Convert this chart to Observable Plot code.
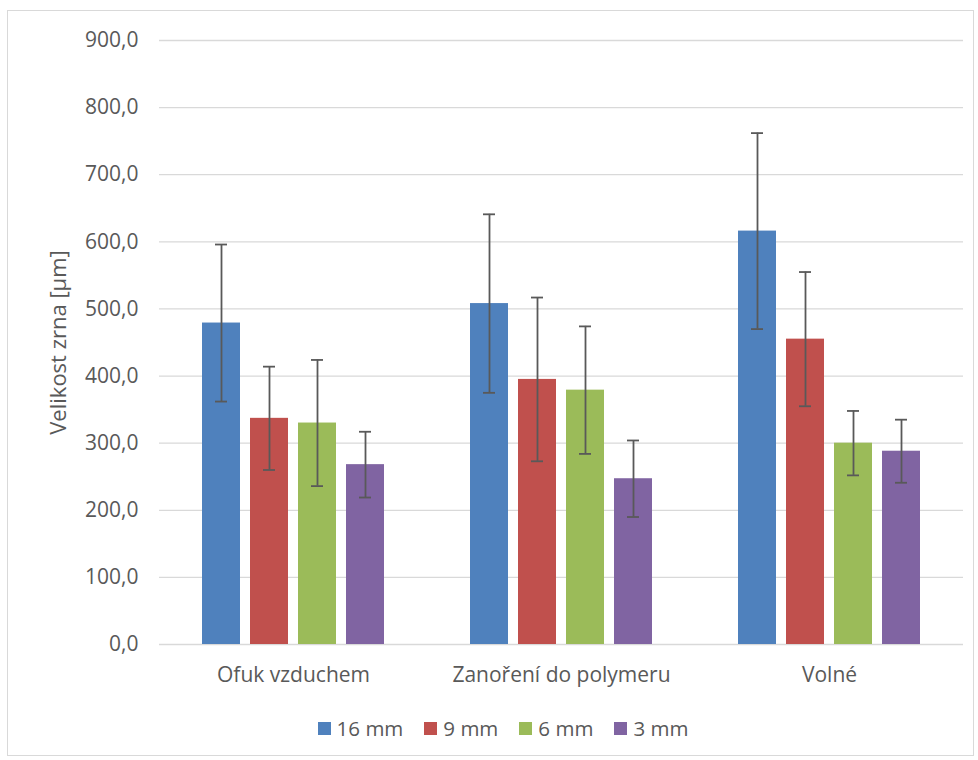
<!DOCTYPE html>
<html>
<head>
<meta charset="utf-8">
<script src="https://cdn.jsdelivr.net/npm/d3@7"></script>
<script src="https://cdn.jsdelivr.net/npm/@observablehq/plot@0.6"></script>
<style>
  body { margin: 0; background: #fff; font-family: "Open Sans", sans-serif; }
  #wrap { position: relative; width: 978px; height: 760px; }
  #frame { position: absolute; left: 7px; top: 10px; width: 967px; height: 746px; border: 1px solid #d9d9d9; box-sizing: border-box; }
  #chart { position: absolute; left: 0; top: 0; }
  #legend { position: absolute; left: 14px; top: 714px; width: 978px; display: flex; justify-content: center; gap: 21px; font-size: 20.5px; line-height: 28px; color: #595959; }
  #legend span.item { display: flex; align-items: center; gap: 6px; }
  #legend span.sw { width: 13px; height: 13px; display: inline-block; }
</style>
</head>
<body>
<div id="wrap">
  <div id="frame"></div>
  <div id="chart"></div>
  <div id="legend"></div>
</div>
<script>
const categories = ["Ofuk vzduchem", "Zanoření do polymeru", "Volné"];
const series = ["16 mm", "9 mm", "6 mm", "3 mm"];
const colors = ["#4F81BD", "#C0504D", "#9BBB59", "#8064A2"];
const values16 = [479, 508, 616];
const values9 = [337, 395, 455];
const values6 = [330, 379, 300];
const values3 = [268, 247, 288];
const err16 = [117, 133, 146];
const err9 = [77, 122, 100];
const err6 = [94, 95, 48];
const err3 = [49, 57, 47];
const yTicks = [0, 100, 200, 300, 400, 500, 600, 700, 800, 900];
const yLabel = "Velikost zrna [µm]";

const seriesValues = [values16, values9, values6, values3];
const seriesErrors = [err16, err9, err6, err3];
const data = [];
categories.forEach((c, i) => {
  series.forEach((s, j) => {
    const v = seriesValues[j][i], e = seriesErrors[j][i];
    data.push({category: c, series: s, value: v, lo: v - e, hi: v + e});
  });
});

const fmt = d => d.toFixed(1).replace(".", ",");

const chart = Plot.plot({
  width: 978,
  height: 700,
  marginLeft: 158,
  marginRight: 15,
  marginTop: 40,
  marginBottom: 56,
  style: {fontFamily: "'Open Sans', sans-serif", fontSize: "21px", color: "#595959", background: "transparent"},
  fx: {domain: categories, padding: 0},
  x: {domain: series, paddingInner: 0.2, paddingOuter: 0.86, axis: null},
  y: {domain: [0, 900]},
  color: {domain: series, range: colors},
  marks: [
    Plot.ruleY(yTicks, {y: d => d, stroke: "#d9d9d9", strokeWidth: 1.3}),
    Plot.barY(data, {fx: "category", x: "series", y: "value", fill: "series"}),
    Plot.ruleX(data, {fx: "category", x: "series", y1: "lo", y2: "hi", stroke: "#595959", strokeWidth: 1.8}),
    Plot.tickY(data, {fx: "category", x: "series", y: "lo", stroke: "#595959", strokeWidth: 1.8, insetLeft: 13, insetRight: 13}),
    Plot.tickY(data, {fx: "category", x: "series", y: "hi", stroke: "#595959", strokeWidth: 1.8, insetLeft: 13, insetRight: 13}),
    Plot.axisY({ticks: yTicks, tickFormat: fmt, tickSize: 0, tickPadding: 21, fill: "#595959",
      label: yLabel, labelAnchor: "center", labelArrow: "none", labelOffset: 109}),
    Plot.axisFx({anchor: "bottom", tickSize: 0, tickPadding: 23, label: null, fill: "#595959"})
  ]
});
document.getElementById("chart").appendChild(chart);

chart.querySelectorAll("text").forEach(t => {
  if (t.textContent === yLabel) { t.setAttribute("font-size", "22px"); t.style.fontSize = "22px"; }
});

const legend = document.getElementById("legend");
series.forEach((s, j) => {
  const item = document.createElement("span");
  item.className = "item";
  const sw = document.createElement("span");
  sw.className = "sw";
  sw.style.background = colors[j];
  const lab = document.createElement("span");
  lab.textContent = s;
  item.appendChild(sw);
  item.appendChild(lab);
  legend.appendChild(item);
});
</script>
</body>
</html>
